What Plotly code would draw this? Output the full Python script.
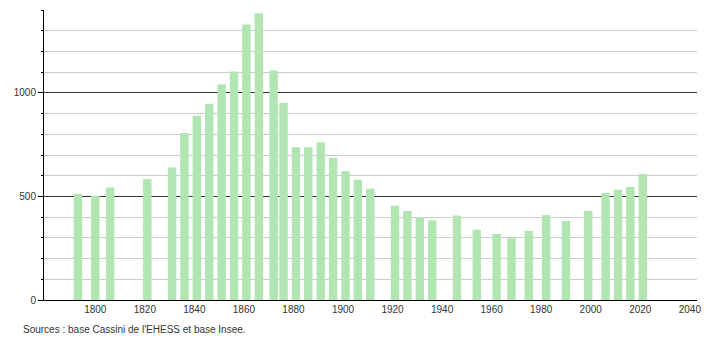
import plotly.graph_objects as go

years = [1793, 1800, 1806, 1821, 1831, 1836, 1841, 1846, 1851, 1856, 1861, 1866,
         1872, 1876, 1881, 1886, 1891, 1896, 1901, 1906, 1911, 1921, 1926, 1931,
         1936, 1946, 1954, 1962, 1968, 1975, 1982, 1990, 1999, 2006, 2011, 2016, 2021]
population = [513, 503, 543, 584, 640, 806, 890, 948, 1040, 1103, 1330, 1384,
              1108, 952, 737, 737, 761, 687, 622, 580, 537, 455, 430, 397,
              384, 408, 339, 319, 298, 334, 410, 382, 430, 516, 532, 545, 608]
x_ticks = [1800, 1820, 1840, 1860, 1880, 1900, 1920, 1940, 1960, 1980, 2000, 2020, 2040]
y_ticks = [0, 500, 1000]
source_text = "Sources : base Cassini de l'EHESS et base Insee."

fig = go.Figure()
fig.add_trace(go.Bar(x=years, y=population, width=3.4,
                     marker=dict(color="#b1e5b1", line=dict(width=0)),
                     hoverinfo="x+y"))

fig.update_layout(
    width=710, height=340,
    margin=dict(l=44, r=9, t=10, b=40),
    paper_bgcolor="white", plot_bgcolor="white",
    showlegend=False,
    font=dict(family="Liberation Sans, Arial, sans-serif", size=10, color="#333"),
    xaxis=dict(range=[1779.3, 2042.9], tickvals=x_ticks, showgrid=False,
               showline=True, linecolor="#000", linewidth=1, ticks="",
               zeroline=False, tickfont=dict(size=10, color="#333")),
    yaxis=dict(range=[0, 1400], tickvals=y_ticks, showgrid=True,
               gridcolor="#333", gridwidth=1, showline=True, linecolor="#000",
               linewidth=1, ticks="outside", ticklen=5, tickcolor="#000",
               zeroline=False, tickfont=dict(size=10, color="#333"),
               minor=dict(dtick=100, showgrid=True, gridcolor="#cccccc",
                          ticks="outside", ticklen=2, tickcolor="#000")),
    annotations=[dict(text=source_text, xref="paper", yref="paper",
                      x=-23/657, y=-29/290, xanchor="left", yanchor="middle",
                      showarrow=False, font=dict(size=10, color="#333"))],
)

fig.write_html("out.html")
